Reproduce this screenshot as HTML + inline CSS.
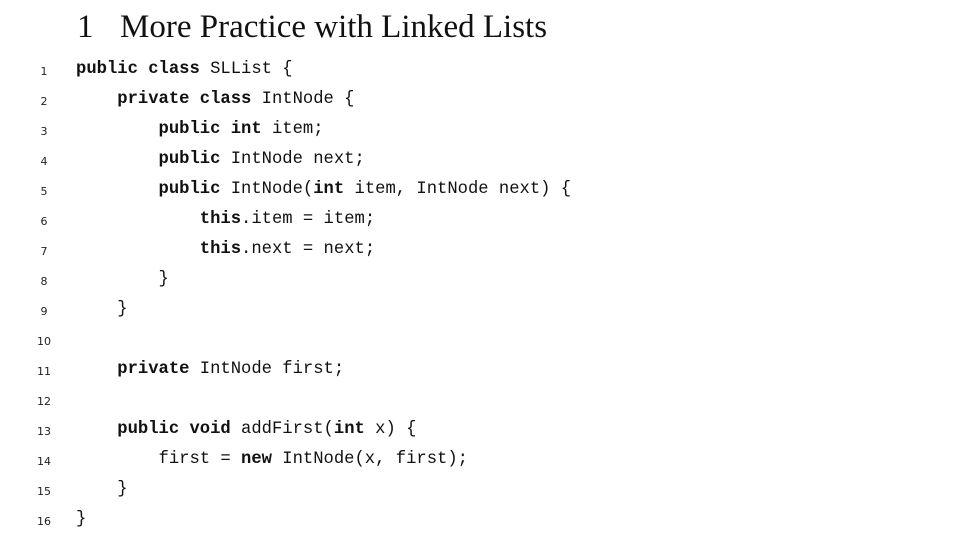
<!DOCTYPE html>
<html><head><meta charset="utf-8"><style>
body{margin:0;width:973px;height:536px;background:#fff;position:relative;overflow:hidden;color:#111}
.t{position:absolute;top:9px;font-family:"Liberation Serif",serif;font-size:33px;white-space:pre}
.n{position:absolute;width:20px;left:34px;text-align:center;font-family:"DejaVu Sans","Liberation Sans",sans-serif;font-size:11px;color:#222}
.c{position:absolute;left:76px;font-family:"Liberation Mono",monospace;font-size:17.2px;white-space:pre}
b{font-weight:bold}
</style></head><body>
<div class="t" style="left:77px">1</div>
<div class="t" style="left:120px">More Practice with Linked Lists</div>
<div class="n" style="top:65px">1</div><div class="c" style="top:60px"><b>public class</b> SLList {</div>
<div class="n" style="top:95px">2</div><div class="c" style="top:90px">    <b>private class</b> IntNode {</div>
<div class="n" style="top:125px">3</div><div class="c" style="top:120px">        <b>public int</b> item;</div>
<div class="n" style="top:155px">4</div><div class="c" style="top:150px">        <b>public</b> IntNode next;</div>
<div class="n" style="top:185px">5</div><div class="c" style="top:180px">        <b>public</b> IntNode(<b>int</b> item, IntNode next) {</div>
<div class="n" style="top:215px">6</div><div class="c" style="top:210px">            <b>this</b>.item = item;</div>
<div class="n" style="top:245px">7</div><div class="c" style="top:240px">            <b>this</b>.next = next;</div>
<div class="n" style="top:275px">8</div><div class="c" style="top:270px">        }</div>
<div class="n" style="top:305px">9</div><div class="c" style="top:300px">    }</div>
<div class="n" style="top:335px">10</div>
<div class="n" style="top:365px">11</div><div class="c" style="top:360px">    <b>private</b> IntNode first;</div>
<div class="n" style="top:395px">12</div>
<div class="n" style="top:425px">13</div><div class="c" style="top:420px">    <b>public void</b> addFirst(<b>int</b> x) {</div>
<div class="n" style="top:455px">14</div><div class="c" style="top:450px">        first = <b>new</b> IntNode(x, first);</div>
<div class="n" style="top:485px">15</div><div class="c" style="top:480px">    }</div>
<div class="n" style="top:515px">16</div><div class="c" style="top:510px">}</div>
</body></html>
